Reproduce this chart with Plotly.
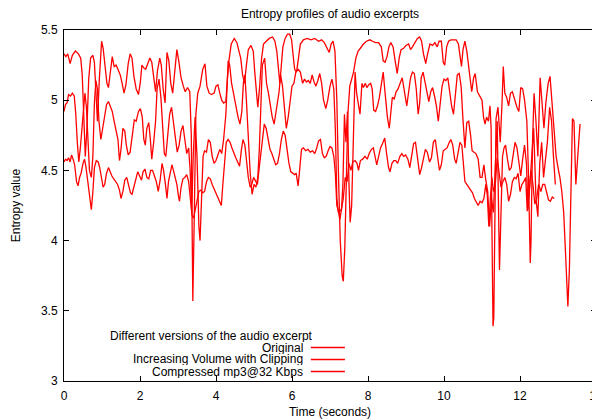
import plotly.graph_objects as go

# ---------------- data ----------------
series_names = ["Original", "Increasing Volume with Clipping", "Compressed mp3@32 Kbps"]
legend_title = "Different versions of the audio excerpt"

t_orig = [0.00, 0.05, 0.10, 0.16, 0.22, 0.30, 0.38, 0.44, 0.48, 0.52, 0.56, 0.60, 0.65, 0.70, 0.76, 0.80, 0.84, 0.88,
          0.93, 0.99, 1.03, 1.08, 1.13, 1.17, 1.21, 1.27, 1.32, 1.37, 1.42, 1.48, 1.53, 1.58, 1.63, 1.69, 1.74, 1.79,
          1.84, 1.90, 1.96, 2.01, 2.05, 2.10, 2.15, 2.21, 2.26, 2.31, 2.36, 2.41, 2.46, 2.52, 2.56, 2.61, 2.66, 2.71,
          2.76, 2.81, 2.86, 2.92, 2.97, 3.02, 3.08, 3.14, 3.19, 3.25, 3.31, 3.35, 3.39, 3.43, 3.47, 3.52, 3.58, 3.65,
          3.71, 3.76, 3.82, 3.88, 3.95, 4.00, 4.05, 4.10, 4.15, 4.20, 4.26, 4.30, 4.34, 4.40, 4.48, 4.55, 4.60, 4.65,
          4.70, 4.75, 4.80, 4.85, 4.92, 4.98, 5.02, 5.06, 5.10, 5.15, 5.20, 5.25, 5.32, 5.40, 5.49, 5.55, 5.60, 5.64,
          5.68, 5.72, 5.76, 5.82, 5.88, 5.94, 5.99, 6.03, 6.07, 6.12, 6.17, 6.22, 6.30, 6.40, 6.50, 6.60, 6.70, 6.78,
          6.85, 6.92, 6.98, 7.03, 7.08, 7.13, 7.18, 7.22, 7.27, 7.32, 7.35, 7.39, 7.43, 7.47, 7.52, 7.57, 7.62, 7.68,
          7.74, 7.80, 7.88, 7.96, 8.05, 8.12, 8.20, 8.28, 8.35, 8.40, 8.45, 8.50, 8.55, 8.60, 8.66, 8.72, 8.77, 8.82,
          8.87, 8.94, 9.00, 9.07, 9.12, 9.17, 9.23, 9.30, 9.36, 9.41, 9.46, 9.52, 9.56, 9.63, 9.70, 9.76, 9.82, 9.87,
          9.93, 9.98, 10.02, 10.07, 10.12, 10.18, 10.25, 10.32, 10.38, 10.43, 10.46, 10.50, 10.55, 10.60, 10.66,
          10.73, 10.78, 10.82, 10.88, 10.95, 11.00, 11.04, 11.08, 11.12, 11.17, 11.21, 11.24, 11.26, 11.29, 11.31,
          11.34, 11.37, 11.42, 11.48, 11.53, 11.56, 11.60, 11.65, 11.70, 11.75, 11.80, 11.86, 11.92, 11.97, 12.02,
          12.07, 12.12, 12.18, 12.22, 12.27, 12.29, 12.33, 12.37, 12.42, 12.47, 12.53, 12.58, 12.63, 12.68, 12.74,
          12.79, 12.85, 12.90, 12.95, 13.00, 13.05, 13.10, 13.15, 13.20, 13.24, 13.26, 13.30, 13.35, 13.38, 13.42,
          13.47, 13.52, 13.58]
v_orig = [5.33, 5.31, 5.33, 5.26, 5.32, 5.35, 5.33, 5.30, 5.18, 4.90, 4.60, 4.78, 5.15, 5.30, 5.32, 5.27, 5.02, 4.85,
          5.15, 5.42, 5.37, 5.24, 5.12, 5.09, 5.17, 5.31, 5.24, 5.25, 5.22, 5.18, 5.12, 5.05, 5.11, 5.26, 5.33, 5.30,
          5.17, 5.08, 5.04, 5.13, 5.25, 5.23, 5.22, 5.26, 5.30, 5.27, 5.17, 5.06, 5.21, 5.30, 5.25, 5.08, 4.98, 5.34,
          5.28, 5.12, 5.05, 5.22, 5.36, 5.28, 5.16, 5.10, 5.06, 5.09, 5.06, 4.75, 3.57, 4.20, 4.90, 5.05, 5.10, 5.22,
          5.26, 5.10, 5.05, 5.04, 5.05, 5.10, 5.11, 5.05, 5.00, 4.98, 4.99, 5.15, 5.28, 5.40, 5.44, 5.41, 5.35, 5.30,
          5.18, 5.12, 5.25, 5.36, 5.39, 5.35, 5.20, 5.05, 4.95, 5.10, 5.30, 5.40, 5.42, 5.44, 5.45, 5.42, 5.35, 5.25,
          5.12, 5.25, 5.38, 5.44, 5.47, 5.47, 5.43, 5.32, 5.22, 5.20, 5.30, 5.40, 5.43, 5.44, 5.43, 5.44, 5.42, 5.43,
          5.41, 5.37, 5.34, 5.40, 5.42, 5.35, 5.00, 4.50, 4.00, 3.75, 3.71, 3.95, 4.50, 4.90, 5.10, 5.15, 5.20, 5.30,
          5.35, 5.37, 5.40, 5.42, 5.43, 5.42, 5.41, 5.41, 5.38, 5.28, 5.27, 5.31, 5.38, 5.41, 5.38, 5.27, 5.19, 5.30,
          5.36, 5.37, 5.39, 5.40, 5.36, 5.38, 5.41, 5.44, 5.45, 5.42, 5.33, 5.26, 5.32, 5.40, 5.39, 5.41, 5.38, 5.42,
          5.42, 5.27, 5.25, 5.38, 5.42, 5.43, 5.43, 5.43, 5.40, 5.30, 5.24, 5.36, 5.42, 5.35, 5.20,
          5.06, 5.16, 5.19, 5.06, 5.03, 5.00, 4.88, 4.83, 4.88, 4.85, 4.96, 4.80, 4.12, 3.39, 3.45,
          4.20, 4.87, 4.95, 4.70, 5.00, 5.24, 5.05, 5.02, 4.96, 5.05, 5.06, 5.00, 4.95, 4.92, 5.09,
          5.08, 5.00, 4.85, 4.50, 3.84, 4.00, 4.70, 5.05, 4.85, 4.60, 5.16, 4.95, 4.80, 4.98, 5.12,
          5.17, 4.95, 4.80, 4.60, 4.52, 4.45, 4.35, 4.20, 3.90, 3.60, 3.53, 3.80, 4.50, 4.87, 4.85,
          4.40, 4.60, 4.83]

t_clip = [0.00, 0.04, 0.08, 0.12, 0.17, 0.22, 0.27, 0.31, 0.35, 0.39, 0.43, 0.47, 0.51, 0.55, 0.59, 0.63, 0.67, 0.72,
          0.76, 0.80, 0.84, 0.88, 0.92, 0.97, 1.02, 1.07, 1.12, 1.17, 1.22, 1.27, 1.32, 1.37, 1.42, 1.46, 1.50, 1.55,
          1.60, 1.64, 1.69, 1.74, 1.79, 1.85, 1.90, 1.96, 2.01, 2.06, 2.10, 2.14, 2.18, 2.23, 2.27, 2.31, 2.36, 2.41,
          2.45, 2.50, 2.55, 2.60, 2.64, 2.68, 2.73, 2.78, 2.83, 2.88, 2.93, 2.98, 3.03, 3.08, 3.13, 3.18, 3.23, 3.28,
          3.32, 3.36, 3.40, 3.45, 3.50, 3.55, 3.58, 3.62, 3.66, 3.70, 3.75, 3.80, 3.85, 3.90, 3.95, 4.00, 4.05, 4.10,
          4.15, 4.20, 4.26, 4.32, 4.36, 4.41, 4.46, 4.52, 4.58, 4.63, 4.68, 4.72, 4.76, 4.80, 4.85, 4.90, 4.95, 5.00,
          5.05, 5.10, 5.14, 5.18, 5.22, 5.28, 5.33, 5.38, 5.43, 5.48, 5.53, 5.58, 5.62, 5.66, 5.70, 5.75, 5.80, 5.85,
          5.90, 5.95, 6.00, 6.05, 6.10, 6.16, 6.22, 6.28, 6.33, 6.38, 6.43, 6.48, 6.53, 6.58, 6.63, 6.68, 6.73, 6.78,
          6.83, 6.89, 6.94, 7.00, 7.05, 7.10, 7.14, 7.18, 7.22, 7.26, 7.30, 7.34, 7.38, 7.42, 7.46, 7.50, 7.53, 7.57,
          7.61, 7.66, 7.70, 7.75, 7.79, 7.84, 7.88, 7.93, 7.97, 8.02, 8.07, 8.11, 8.15, 8.20, 8.25, 8.30, 8.35, 8.40,
          8.45, 8.51, 8.56, 8.60, 8.64, 8.69, 8.74, 8.79, 8.85, 8.90, 8.96, 9.02, 9.07, 9.12, 9.17, 9.22, 9.27, 9.32,
          9.36, 9.40, 9.45, 9.50, 9.55, 9.60, 9.65, 9.70, 9.75, 9.80, 9.85, 9.90, 9.95, 10.00, 10.05, 10.10, 10.15,
          10.20, 10.25, 10.30, 10.35, 10.40, 10.45, 10.50, 10.55, 10.60, 10.65, 10.70, 10.74, 10.79, 10.84, 10.90,
          10.95, 11.00, 11.05, 11.10, 11.15, 11.20, 11.25, 11.30, 11.35, 11.40, 11.46, 11.50, 11.54, 11.58, 11.62,
          11.67, 11.72, 11.77, 11.82, 11.87, 11.92, 11.97, 12.02, 12.07, 12.12, 12.17, 12.21, 12.26, 12.31, 12.36,
          12.42, 12.47, 12.52, 12.57, 12.62, 12.67, 12.72, 12.78, 12.83, 12.88, 12.93]
v_clip = [4.92, 4.97, 4.98, 5.04, 5.03, 5.05, 5.03, 4.90, 4.70, 4.56, 4.66, 4.79, 4.92, 5.05, 4.95, 4.70, 4.50, 4.45,
          4.60, 4.98, 5.14, 5.08, 4.85, 4.72, 4.80, 4.90, 4.97, 4.99, 4.95, 4.92, 4.85, 4.79, 4.72, 4.57, 4.65, 4.80,
          4.78, 4.68, 4.61, 4.63, 4.75, 4.86, 4.85, 4.92, 4.94, 4.88, 4.72, 4.68, 4.80, 4.84, 4.73, 4.58, 4.70, 4.85,
          5.08, 5.15, 5.02, 4.80, 4.62, 4.60, 4.78, 4.90, 4.95, 4.85, 4.72, 4.63, 4.68, 4.78, 4.82, 4.73, 4.62, 4.66,
          4.50, 4.20, 4.60, 4.88, 4.60, 4.10, 4.00, 4.30, 4.60, 4.64, 4.63, 4.72, 4.70, 4.60, 4.55, 4.57, 4.62, 4.65,
          4.62, 4.72, 4.90, 5.28, 5.25, 5.12, 5.05, 4.95, 4.88, 4.83, 4.92, 5.12, 5.18, 5.00, 4.75, 4.48, 4.33, 4.40,
          4.38, 4.45, 4.65, 5.00, 5.25, 5.30, 5.12, 5.05, 4.95, 4.88, 4.83, 4.92, 5.02, 5.06, 5.18, 5.10, 4.95, 4.80,
          4.88, 5.00, 5.10, 5.12, 5.20, 5.22, 5.20, 5.12, 5.15, 5.13, 5.14, 5.12, 5.18, 5.13, 5.10, 5.14, 5.19, 5.12,
          5.00, 4.94, 5.00, 5.10, 5.15, 5.08, 4.80, 4.30, 4.20, 4.22, 4.21, 4.40, 4.90, 4.70, 4.92, 4.40, 4.13, 4.25,
          4.70, 5.20, 5.05, 4.95, 4.90, 5.12, 5.09, 5.12, 5.09, 5.11, 5.12, 5.08, 4.93, 4.92, 4.96, 5.02, 5.12, 5.20,
          5.05, 4.88, 4.80, 4.91, 5.02, 5.01, 5.06, 5.08, 5.12, 5.16, 5.06, 4.96, 5.06, 5.16, 5.20, 5.19, 5.08, 4.90,
          4.98, 5.16, 5.20, 5.12, 5.06, 4.99, 5.06, 5.09, 5.03, 4.96, 4.85, 4.99, 5.10, 5.15, 5.14, 5.16, 5.06,
          4.96, 4.90, 5.05, 5.18, 5.19, 5.10, 4.86, 4.66, 4.84, 4.85, 4.75, 4.64, 4.63, 4.62, 4.58,
          4.45, 4.45, 4.54, 4.43, 4.35, 4.10, 4.30, 4.20, 4.60, 4.85, 3.79, 4.30, 4.60, 4.66, 4.68,
          4.58, 4.50, 4.52, 4.62, 4.70, 4.66, 4.55, 4.46, 4.58, 4.68, 4.55, 4.22, 4.40, 4.62, 4.80,
          4.30, 4.17, 4.55, 4.70, 4.45, 4.60, 4.70, 4.95, 4.85, 4.60, 4.40]

t_mp3 = [0.00, 0.04, 0.08, 0.12, 0.16, 0.20, 0.24, 0.28, 0.33, 0.37, 0.41, 0.45, 0.50, 0.54, 0.58, 0.63, 0.68, 0.72,
         0.76, 0.80, 0.85, 0.90, 0.94, 0.98, 1.03, 1.07, 1.12, 1.17, 1.21, 1.26, 1.31, 1.36, 1.41, 1.46, 1.50, 1.55,
         1.60, 1.65, 1.70, 1.75, 1.79, 1.84, 1.89, 1.94, 1.99, 2.04, 2.08, 2.13, 2.18, 2.23, 2.28, 2.33, 2.38, 2.43,
         2.48, 2.53, 2.58, 2.62, 2.67, 2.71, 2.75, 2.80, 2.84, 2.88, 2.93, 2.97, 3.01, 3.04, 3.08, 3.13, 3.18, 3.23,
         3.28, 3.33, 3.37, 3.41, 3.45, 3.50, 3.55, 3.60, 3.65, 3.70, 3.75, 3.80, 3.85, 3.90, 3.95, 4.00, 4.05, 4.10,
         4.14, 4.18, 4.22, 4.27, 4.32, 4.37, 4.42, 4.47, 4.52, 4.57, 4.62, 4.67, 4.71, 4.76, 4.80, 4.85, 4.90, 4.94,
         4.99, 5.04, 5.09, 5.13, 5.18, 5.23, 5.27, 5.32, 5.37, 5.42, 5.47, 5.52, 5.57, 5.62, 5.67, 5.72, 5.77, 5.82,
         5.87, 5.92, 5.97, 6.02, 6.07, 6.11, 6.16, 6.20, 6.25, 6.30, 6.36, 6.42, 6.48, 6.54, 6.60, 6.65, 6.70, 6.75,
         6.80, 6.85, 6.90, 6.95, 7.00, 7.05, 7.10, 7.14, 7.18, 7.22, 7.26, 7.30, 7.35, 7.40, 7.45, 7.50, 7.55, 7.60,
         7.66, 7.71, 7.75, 7.80, 7.86, 7.92, 7.98, 8.03, 8.09, 8.14, 8.19, 8.23, 8.28, 8.33, 8.38, 8.44, 8.49, 8.54,
         8.58, 8.63, 8.68, 8.73, 8.78, 8.84, 8.89, 8.94, 8.99, 9.05, 9.10, 9.15, 9.20, 9.25, 9.30, 9.36, 9.41, 9.46,
         9.51, 9.56, 9.62, 9.67, 9.72, 9.77, 9.82, 9.88, 9.93, 9.98, 10.03, 10.08, 10.14, 10.18, 10.23, 10.28,
         10.32, 10.37, 10.42, 10.47, 10.51, 10.55, 10.60, 10.65, 10.70, 10.75, 10.80, 10.85, 10.90, 10.95, 11.00,
         11.05, 11.10, 11.14, 11.18, 11.22, 11.26, 11.30, 11.35, 11.40, 11.45, 11.50, 11.55, 11.60, 11.65, 11.70,
         11.75, 11.80, 11.85, 11.90, 11.95, 12.00, 12.05, 12.10, 12.15, 12.19, 12.24, 12.29, 12.34, 12.39, 12.44,
         12.49, 12.55, 12.60, 12.65, 12.70, 12.75, 12.80, 12.85, 12.90]
v_mp3 = [4.56, 4.58, 4.57, 4.59, 4.56, 4.61, 4.58, 4.54, 4.42, 4.39, 4.45, 4.48, 4.55, 4.58, 4.52, 4.40, 4.28, 4.22,
         4.35, 4.52, 4.57, 4.56, 4.52, 4.45, 4.38, 4.40, 4.48, 4.52, 4.49, 4.46, 4.44, 4.42, 4.40, 4.36, 4.30, 4.35,
         4.43, 4.45, 4.39, 4.34, 4.33, 4.38, 4.44, 4.49, 4.46, 4.43, 4.49, 4.51, 4.45, 4.44, 4.50, 4.50, 4.46, 4.42,
         4.35, 4.43, 4.55, 4.50, 4.40, 4.30, 4.42, 4.50, 4.54, 4.50, 4.45, 4.40, 4.32, 4.28, 4.38, 4.44, 4.45, 4.47,
         4.42, 4.30, 4.18, 4.16, 4.22, 4.30, 4.35, 4.36, 4.34, 4.35, 4.42, 4.45, 4.44, 4.40, 4.37, 4.33, 4.30, 4.27,
         4.25, 4.40, 4.55, 4.70, 4.72, 4.70, 4.66, 4.62, 4.59, 4.56, 4.53, 4.65, 4.72, 4.68, 4.55, 4.45, 4.38, 4.40,
         4.45, 4.42, 4.40, 4.50, 4.62, 4.75, 4.83, 4.80, 4.72, 4.65, 4.62, 4.58, 4.54, 4.55, 4.62, 4.72, 4.78, 4.75,
         4.65, 4.55, 4.49, 4.48, 4.47, 4.48, 4.39, 4.50, 4.65, 4.66, 4.64, 4.65, 4.63, 4.64, 4.62, 4.66, 4.71, 4.72,
         4.62, 4.59, 4.60, 4.64, 4.67, 4.66, 4.60, 4.48, 4.25, 4.21, 4.15, 4.22, 4.30, 4.45, 4.42, 4.55, 4.50, 4.56,
         4.57, 4.55, 4.50, 4.57, 4.58, 4.60, 4.58, 4.62, 4.65, 4.66, 4.60, 4.54, 4.60, 4.66, 4.69, 4.73, 4.62, 4.52,
         4.49, 4.55, 4.57, 4.57, 4.55, 4.60, 4.62, 4.60, 4.61, 4.58, 4.52, 4.62, 4.69, 4.70, 4.60, 4.47, 4.52, 4.60,
         4.65, 4.63, 4.56, 4.59, 4.70, 4.72, 4.63, 4.50, 4.54, 4.64, 4.65, 4.66, 4.70, 4.72, 4.68, 4.58,
         4.55, 4.64, 4.70, 4.68, 4.55, 4.42, 4.40, 4.38, 4.36, 4.34, 4.30, 4.27, 4.25, 4.28, 4.27,
         4.30, 4.40, 4.32, 4.10, 4.30, 4.45, 4.35, 4.40, 4.59, 4.50, 4.38, 4.42, 4.45, 4.40, 4.28,
         4.33, 4.42, 4.45, 4.44, 4.48, 4.35, 4.40, 4.42, 4.45, 4.21, 4.35, 4.50, 4.40, 4.26, 4.30,
         4.40, 4.35, 4.40, 4.40, 4.35, 4.29, 4.28, 4.31, 4.30]

x_ticks = [0, 2, 4, 6, 8, 10, 12, 14]
y_ticks = [3, 3.5, 4, 4.5, 5, 5.5]
x_range = [0, 14]
y_range = [3, 5.5]

# ---------------- figure ----------------
# The page body adds an 8 px offset, so the figure is 8 px smaller and margins are reduced accordingly.
FONT = "Liberation Sans, Arial, Helvetica, sans-serif"
FS = 12
RED = "#ff0000"
W, H = 592, 411

fig = go.Figure()
for name, t, v in [(series_names[0], t_orig, v_orig),
                   (series_names[1], t_clip, v_clip),
                   (series_names[2], t_mp3, v_mp3)]:
    fig.add_trace(go.Scatter(x=t, y=v, mode="lines", name=name, showlegend=False,
                             line=dict(color=RED, width=1.3)))

axis_common = dict(showgrid=False, zeroline=False, showline=True, linecolor="black", linewidth=1,
                   mirror="ticks", ticks="inside", ticklen=5, tickcolor="black", automargin=False,
                   ticklabeloverflow="allow",
                   tickfont=dict(family=FONT, size=FS, color="black"))

fig.update_layout(
    width=W, height=H,
    margin=dict(l=56, r=4, t=22, b=38, autoexpand=False),
    paper_bgcolor="white", plot_bgcolor="white",
    font=dict(family=FONT, size=FS, color="black"),
    title=dict(text="Entropy profiles of audio excerpts", xref="paper", x=0.5, xanchor="center",
               yref="container", y=1 - 6.0 / H, yanchor="middle", font=dict(family=FONT, size=FS)),
    xaxis=dict(range=x_range, tickvals=x_ticks, ticktext=[str(v) for v in x_ticks],
               ticklabelstandoff=4,
               title=dict(text="Time (seconds)", font=dict(family=FONT, size=FS), standoff=11),
               **axis_common),
    yaxis=dict(range=y_range, tickvals=y_ticks, ticktext=[f"{v:g}" for v in y_ticks],
               ticklabelstandoff=3,
               title=dict(text="Entropy value", font=dict(family=FONT, size=FS), standoff=17),
               **axis_common),
    showlegend=False,
)

# gnuplot-style key: text right-aligned, sample line on the right
fig.add_annotation(xref="paper", yref="paper", x=0.2777, y=0.128, text=legend_title,
                   showarrow=False, xanchor="center", yanchor="middle", borderpad=0, height=12,
                   font=dict(family=FONT, size=FS, color="black"))
key_y = [0.0954, 0.0613, 0.027]
for name, ky in zip(series_names, key_y):
    fig.add_annotation(xref="paper", yref="paper", x=0.451, y=ky, text=name, showarrow=False,
                       xanchor="right", yanchor="middle", borderpad=0, height=12,
                       font=dict(family=FONT, size=FS, color="black"))
    fig.add_shape(type="line", xref="paper", yref="paper", x0=0.464, x1=0.528, y0=ky, y1=ky,
                  line=dict(color=RED, width=1.3))

fig.write_html("out.html")
